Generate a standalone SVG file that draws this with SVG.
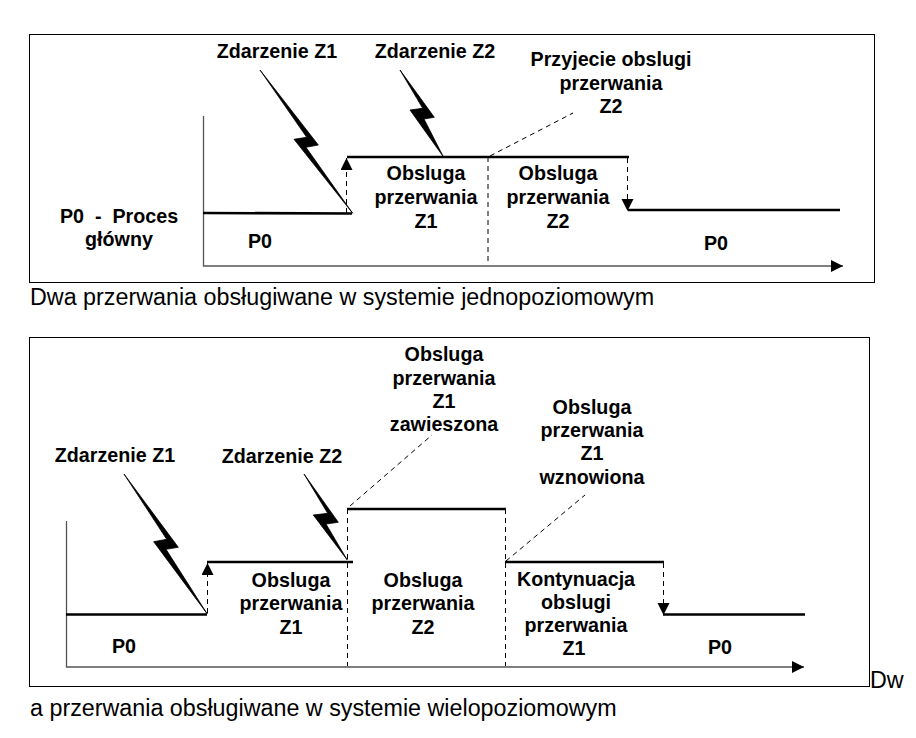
<svg xmlns="http://www.w3.org/2000/svg" width="916" height="738" viewBox="0 0 916 738">
<defs>
<marker id="ah" markerUnits="userSpaceOnUse" markerWidth="13" markerHeight="13" refX="12" refY="6" orient="auto"><path d="M0 0L12 6L0 12Z" fill="#000"/></marker>
</defs>
<style>
text{font-family:"Liberation Sans",Arial,sans-serif;fill:#000}
.b{font-size:19.7px;font-weight:bold;text-anchor:middle;white-space:pre}
.c{font-size:23.3px}
.frame{fill:#fff;stroke:#000;stroke-width:1}
.axis{fill:none;stroke:#555;stroke-width:1.3}
.lvl{fill:none;stroke:#000;stroke-width:2.6}
.d{fill:none;stroke:#000;stroke-width:1;stroke-dasharray:5 4}
.bolt{fill:#000;stroke:#000;stroke-width:.8}
</style>
<rect width="916" height="738" fill="#fff"/>
<g id="frame-top"><rect class="frame" x="29.5" y="34.5" width="845" height="248"/></g>
<g id="frame-bottom"><rect class="frame" x="29.5" y="337.500" width="840" height="349"/></g>
<g id="connectors">
<path class="axis" d="M203.500 116V266H843" marker-end="url(#ah)"/>
<path class="axis" d="M66.500 521V667H804" marker-end="url(#ah)"/>
<path class="lvl" d="M203 213L352 213.500"/>
<path class="lvl" d="M347 157H629"/>
<path class="lvl" d="M628 210H840"/>
<path class="d" d="M346.500 213V158" marker-end="url(#ah)"/>
<path class="d" d="M488 157V264"/>
<path class="d" d="M490 156L573 113"/>
<path class="d" d="M627.500 158V211" marker-end="url(#ah)"/>
<path class="lvl" d="M66 614.500H207"/>
<path class="lvl" d="M207 562H353"/>
<path class="lvl" d="M347 509H506"/>
<path class="lvl" d="M505 562H664"/>
<path class="lvl" d="M663 614.500H805"/>
<path class="d" d="M207.500 613V563" marker-end="url(#ah)"/>
<path class="d" d="M347.500 509V666"/>
<path class="d" d="M505.500 509V666"/>
<path class="d" d="M350 506L432 435"/>
<path class="d" d="M506 561L585 495"/>
<path class="d" d="M663.500 563V615" marker-end="url(#ah)"/>
</g>
<g id="bolt-t1"><polygon class="bolt" points="260,70 318.300,145 306,147.300 352.700,213.300 294,139.300 306.700,137.300"/></g>
<g id="bolt-t2"><polygon class="bolt" points="400,70 434.300,117.300 424,119 443.300,156.700 410,110 422.700,108.300"/></g>
<g id="bolt-b1"><polygon class="bolt" points="124,474 178.300,547.300 166,549.300 207.300,614 153.700,541.700 166.700,539.300"/></g>
<g id="bolt-b2"><polygon class="bolt" points="304,474 338.300,522.300 326,524 347.300,560 313.300,515 327.700,513.300"/></g>
<g id="labels-top">
<text class="b" x="277" y="58">Zdarzenie Z1</text>
<text class="b" x="435" y="58">Zdarzenie Z2</text>
<text class="b" x="611" y="66">Przyjecie obslugi</text>
<text class="b" x="611" y="90">przerwania</text>
<text class="b" x="611" y="113">Z2</text>
<text class="b" x="426" y="180">Obsluga</text>
<text class="b" x="426" y="204">przerwania</text>
<text class="b" x="426" y="228">Z1</text>
<text class="b" x="558" y="180">Obsluga</text>
<text class="b" x="558" y="204">przerwania</text>
<text class="b" x="558" y="228">Z2</text>
<text class="b" x="119" y="223">P0  -  Proces</text>
<text class="b" x="119" y="246">główny</text>
<text class="b" x="260" y="248">P0</text>
<text class="b" x="716" y="250">P0</text>
</g>
<g id="labels-bottom">
<text class="b" x="444" y="361">Obsluga</text>
<text class="b" x="444" y="385">przerwania</text>
<text class="b" x="444" y="408">Z1</text>
<text class="b" x="444" y="431">zawieszona</text>
<text class="b" x="592" y="414">Obsluga</text>
<text class="b" x="592" y="437">przerwania</text>
<text class="b" x="592" y="460">Z1</text>
<text class="b" x="592" y="484">wznowiona</text>
<text class="b" x="115" y="462">Zdarzenie Z1</text>
<text class="b" x="282" y="463">Zdarzenie Z2</text>
<text class="b" x="291" y="587">Obsluga</text>
<text class="b" x="291" y="610">przerwania</text>
<text class="b" x="291" y="634">Z1</text>
<text class="b" x="423" y="587">Obsluga</text>
<text class="b" x="423" y="610">przerwania</text>
<text class="b" x="423" y="634">Z2</text>
<text class="b" x="576" y="586">Kontynuacja</text>
<text class="b" x="576" y="609">obslugi</text>
<text class="b" x="576" y="632">przerwania</text>
<text class="b" x="574" y="655">Z1</text>
<text class="b" x="124" y="653">P0</text>
<text class="b" x="720" y="654">P0</text>
</g>
<g id="captions">
<text class="c" x="30" y="305">Dwa przerwania obsługiwane w systemie jednopoziomowym</text>
<text class="c" x="870" y="688">Dw</text>
<text class="c" x="30" y="716">a przerwania obsługiwane w systemie wielopoziomowym</text>
</g>
</svg>
